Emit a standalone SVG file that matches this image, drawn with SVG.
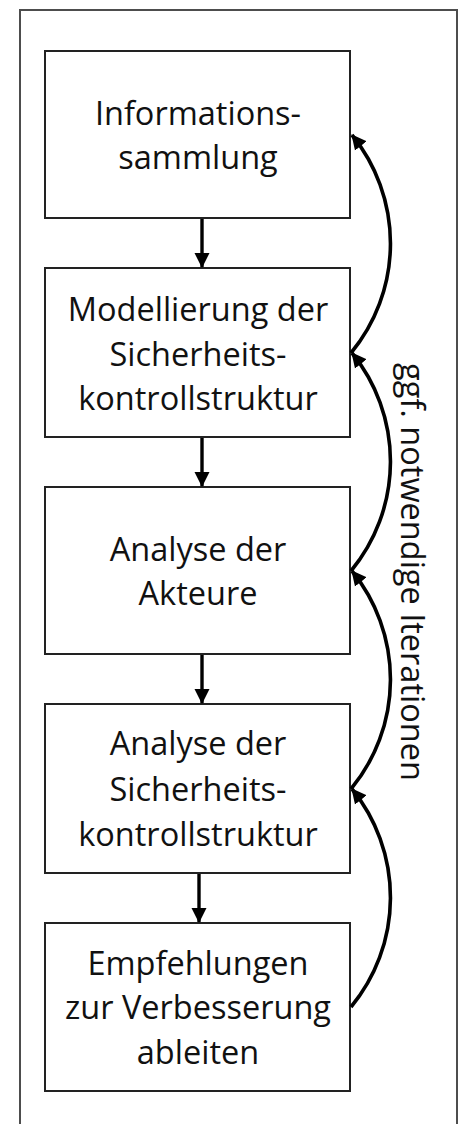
<svg xmlns="http://www.w3.org/2000/svg" width="459" height="1124" viewBox="0 0 459 1124">
<defs>
<style>
.box{fill:#fff;stroke:#222;stroke-width:2}
.lbl{font-family:"Open Sans","Noto Sans",sans-serif;font-size:32.5px;fill:#111;text-anchor:middle}
.arr{fill:none;stroke:#000;stroke-width:3.4}
.cur{fill:none;stroke:#000;stroke-width:3.6}
</style>
<marker id="ah" markerUnits="userSpaceOnUse" markerWidth="16" markerHeight="16" viewBox="0 0 16 16" refX="14" refY="8" orient="auto">
<path d="M0,0.5 L15,8 L0,15.5 Z" fill="#000"/>
</marker>
</defs>
<rect width="459" height="1124" fill="#fff"/>
<path d="M20,1130 V10 H457 V1130" fill="none" stroke="#4d4d4d" stroke-width="2"/>
<g id="n1">
<rect class="box" x="45" y="51" width="305" height="167"/>
<text class="lbl" x="198" y="125">Informations-</text>
<text class="lbl" x="198" y="169">sammlung</text>
</g>
<g id="n2">
<rect class="box" x="45" y="268" width="305" height="169"/>
<text class="lbl" x="198" y="321">Modellierung der</text>
<text class="lbl" x="198" y="366">Sicherheits-</text>
<text class="lbl" x="198" y="410">kontrollstruktur</text>
</g>
<g id="n3">
<rect class="box" x="45" y="487" width="305" height="167"/>
<text class="lbl" x="198" y="561">Analyse der</text>
<text class="lbl" x="198" y="605">Akteure</text>
</g>
<g id="n4">
<rect class="box" x="45" y="704" width="305" height="169"/>
<text class="lbl" x="198" y="755">Analyse der</text>
<text class="lbl" x="198" y="801">Sicherheits-</text>
<text class="lbl" x="198" y="846">kontrollstruktur</text>
</g>
<g id="n5">
<rect class="box" x="45" y="923" width="305" height="168"/>
<text class="lbl" x="198" y="975">Empfehlungen</text>
<text class="lbl" x="198" y="1019">zur Verbesserung</text>
<text class="lbl" x="198" y="1064">ableiten</text>
</g>
<g id="connectors">
<path class="arr" d="M202,219 V267" marker-end="url(#ah)"/>
<path class="arr" d="M202,438 V486" marker-end="url(#ah)"/>
<path class="arr" d="M202,655 V703" marker-end="url(#ah)"/>
<path class="arr" d="M199,874 V922" marker-end="url(#ah)"/>
<path class="cur" d="M351,1007 A172,172 0 0 0 352,789" marker-end="url(#ah)"/>
<path class="cur" d="M351,789 A172,172 0 0 0 352,571" marker-end="url(#ah)"/>
<path class="cur" d="M351,571 A172,172 0 0 0 352,353" marker-end="url(#ah)"/>
<path class="cur" d="M351,353 A172,172 0 0 0 352,135" marker-end="url(#ah)"/>
<text class="lbl" transform="translate(401,572) rotate(90)" x="0" y="0">ggf. notwendige Iterationen</text>
</g>
</svg>
